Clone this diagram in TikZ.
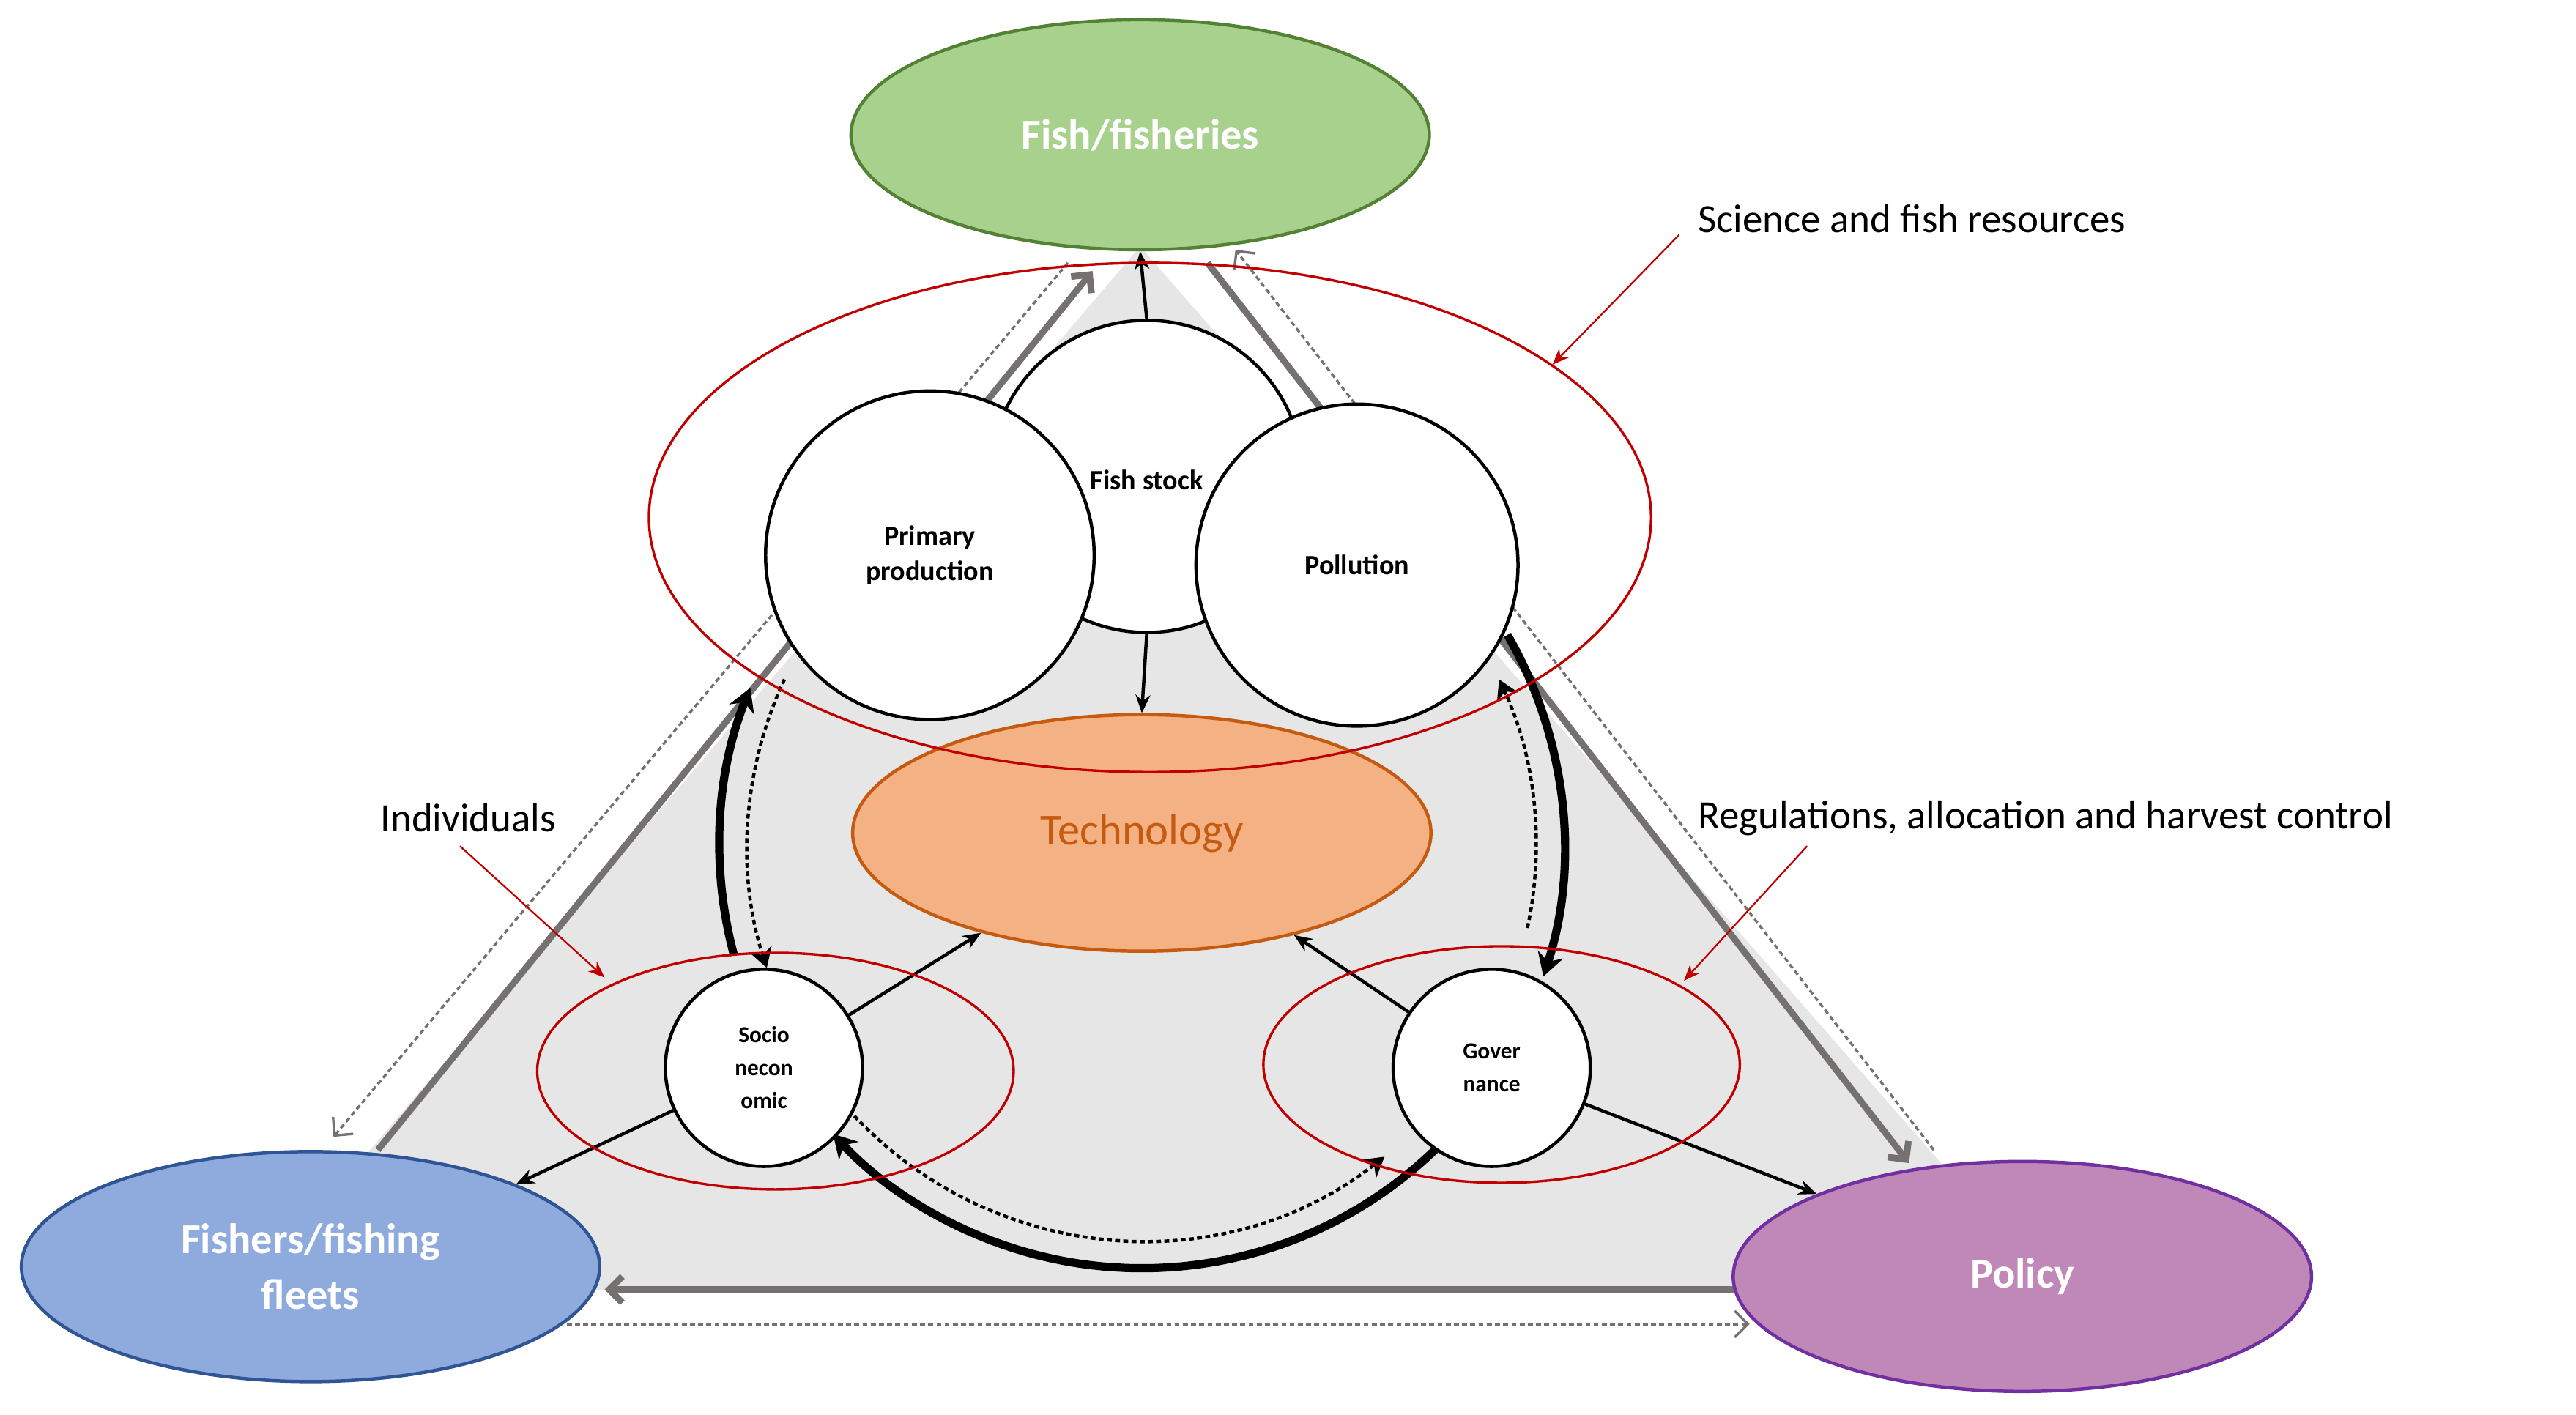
\documentclass[tikz,border=0pt]{standalone}
\usepackage{fontspec}
\setmainfont{Carlito}
\usetikzlibrary{arrows.meta,shapes.geometric}
\definecolor{gfill}{HTML}{A9D18E}\definecolor{gline}{HTML}{548235}
\definecolor{bfill}{HTML}{8FAADC}\definecolor{bline}{HTML}{2F5597}
\definecolor{pfill}{HTML}{C088B8}\definecolor{pline}{HTML}{7030A0}
\definecolor{ofill}{HTML}{F4B183}\definecolor{oline}{HTML}{C55A11}
\definecolor{tri}{HTML}{E6E6E6}\definecolor{gr}{HTML}{767171}
\definecolor{rd}{HTML}{C00000}
\begin{document}
\begin{tikzpicture}[x=1pt,y=-1pt,
 big/.style={ellipse,draw,line width=2pt,minimum width=352pt,minimum height=140pt,text=white,font=\fontsize{26}{30}\selectfont\bfseries,align=center},
 circ/.style={circle,draw,line width=2pt,fill=white,font=\fontsize{17}{21}\selectfont\bfseries,align=center},
 scirc/.style={circle,draw,line width=2pt,fill=white,minimum size=120pt,font=\fontsize{14}{20}\selectfont\bfseries,align=center},
 redell/.style={draw=rd,line width=1.5pt},
 gline/.style={draw=gr,line width=4pt,-{Straight Barb[length=8pt,width=16pt,open]}},
 dline/.style={draw=gr,line width=1.5pt,dash pattern=on 3pt off 2pt,-{Straight Barb[length=8pt,width=16pt,open]}},
 blk/.style={-{Stealth[length=11pt,width=9pt]},line width=2pt},
 thk/.style={line width=5pt,-{Stealth[length=14pt,width=16pt]}},
 dot/.style={line width=2pt,dash pattern=on 3pt off 2pt,-{Stealth[length=12pt,width=14pt]}},
 ann/.style={font=\fontsize{24.5}{28}\selectfont},
 redarr/.style={draw=rd,line width=1pt,-{Stealth[length=10pt,width=8pt]}}]
\useasboundingbox (0,0) rectangle (1568,861);
\fill[tri] (694,150) -- (215,712) -- (300,785) -- (1100,785) -- (1185,712) -- cycle;
\coordinate (l1) at (230,700); \coordinate (l2) at (665,165);
\coordinate (r1) at (735,160); \coordinate (r2) at (1162,708);
\coordinate (b1) at (1060,785); \coordinate (b2) at (368,785);
\coordinate (dl1) at (650,160); \coordinate (dl2) at (203,692);
\coordinate (dr1) at (1177,700); \coordinate (dr2) at (752,152);
\coordinate (db1) at (345,806); \coordinate (db2) at (1065,806);
\draw[gline] (l1) -- (l2); \draw[gline] (r1) -- (r2); \draw[gline] (b1) -- (b2);
\draw[dline] (dl1) -- (dl2); \draw[dline] (dr1) -- (dr2); \draw[dline] (db1) -- (db2);
\node[big,fill=gfill,draw=gline] (fish) at (694,82) {Fish/fisheries};
\node[big,fill=bfill,draw=bline] (fleet) at (189,771) {Fishers/fishing\\[4pt]fleets};
\node[big,fill=pfill,draw=pline] (pol) at (1231,777) {Policy};
\node[big,fill=ofill,draw=oline,text=oline,font=\fontsize{27}{30}\selectfont,minimum height=144pt] (tech) at (695,507) {Technology};
\coordinate (cc) at (695,515);
\draw[thk] (cc) ++(-195:257) arc[start angle=-195,end angle=-158,radius=257];
\draw[thk] (cc) ++(-30:257) arc[start angle=-30,end angle=18,radius=257];
\draw[thk] (cc) ++(46:257) arc[start angle=46,end angle=137,radius=257];
\draw[dot] (cc) ++(-155:240) arc[start angle=-155,end angle=-198,radius=240];
\draw[dot] (cc) ++(12:240) arc[start angle=12,end angle=-25,radius=240];
\draw[dot] (cc) ++(138:240) arc[start angle=138,end angle=52,radius=240];
\node[circ,minimum size=190pt] (stock) at (698,290) {};
\node[font=\fontsize{17}{21}\selectfont\bfseries] (stockl) at (698,292) {Fish stock};
\node[circ,minimum size=200pt] (prim) at (566,338) {Primary\\production};
\node[circ,minimum size=196pt] (poll) at (826,344) {Pollution};
\node[scirc] (soc) at (465,650) {Socio\\necon\\omic};
\node[scirc] (gov) at (908,650) {Gover\\nance};
\draw[blk] (stock.north) -- (fish.south);
\draw[blk] (stock.south) -- (tech.north);
\draw[blk] (soc) -- (tech);
\draw[blk] (gov) -- (tech);
\draw[blk] (soc) -- (fleet.north east);
\draw[blk] (gov) -- (pol.north west);
\node[ellipse,redell,minimum width=610pt,minimum height=310pt] (sci) at (700,315) {};
\node[ellipse,redell,minimum width=290pt,minimum height=144pt] (ind) at (472,652) {};
\node[ellipse,redell,minimum width=290pt,minimum height=144pt] (reg) at (914,648) {};
\node[ann,anchor=west] (scil) at (1030,133) {Science and fish resources};
\node[ann] (indl) at (285,498) {Individuals};
\node[ann,anchor=west] (regl) at (1030,498) {Regulations, allocation and harvest control};
\draw[redarr] (1022,143) -- (945,222);
\draw[redarr] (280,515) -- (368,595);
\draw[redarr] (1100,515) -- (1025,597);
\end{tikzpicture}
\end{document}
